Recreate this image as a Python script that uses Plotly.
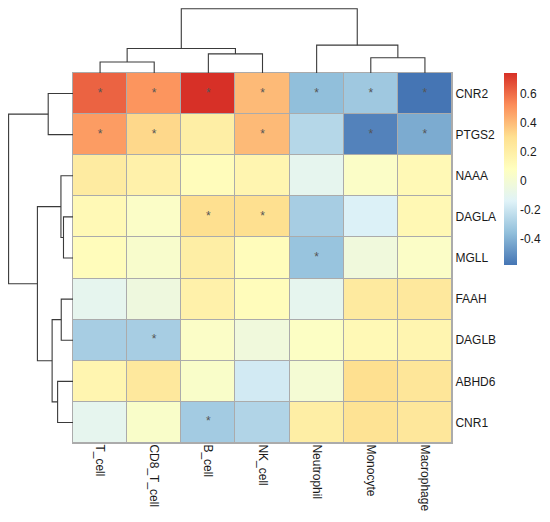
import plotly.graph_objects as go

# cell types (columns) and genes (rows), in the order drawn
cells = ["T_cell", "CD8_T_cell", "B_cell", "NK_cell", "Neutrophil", "Monocyte", "Macrophage"]
genes = ["CNR2", "PTGS2", "NAAA", "DAGLA", "MGLL", "FAAH", "DAGLB", "ABHD6", "CNR1"]

# correlation values, one row per gene
corr = [
    [0.62, 0.50, 0.74, 0.40, -0.36, -0.32, -0.58],
    [0.48, 0.32, 0.20, 0.40, -0.26, -0.54, -0.42],
    [0.22, 0.18, 0.10, 0.15, -0.10, 0.05, 0.12],
    [0.12, 0.05, 0.30, 0.30, -0.30, -0.15, 0.13],
    [0.10, 0.03, 0.20, 0.10, -0.34, -0.03, 0.05],
    [-0.10, -0.04, 0.18, 0.10, -0.10, 0.23, 0.24],
    [-0.30, -0.30, 0.05, -0.03, 0.06, 0.12, 0.15],
    [0.15, 0.24, 0.04, -0.18, 0.00, 0.30, 0.26],
    [-0.10, 0.04, -0.31, -0.27, 0.20, 0.28, 0.25],
]

# significance marks (1 = "*")
stars = [
    [1, 1, 1, 1, 1, 1, 1],
    [1, 1, 0, 1, 0, 1, 1],
    [0, 0, 0, 0, 0, 0, 0],
    [0, 0, 1, 1, 0, 0, 0],
    [0, 0, 0, 0, 1, 0, 0],
    [0, 0, 0, 0, 0, 0, 0],
    [0, 1, 0, 0, 0, 0, 0],
    [0, 0, 0, 0, 0, 0, 0],
    [0, 0, 1, 0, 0, 0, 0],
]

# hierarchical clustering merges: (child_a, child_b, height); leaves are 0..n-1
row_merges = [(0, 1, 25.3), (3, 4, 9.7), (2, 10, 12.3), (5, 6, 12.0),
              (7, 8, 15.7), (12, 13, 21.3), (11, 14, 36.3), (9, 15, 65.7)]
col_merges = [(0, 1, 11.3), (2, 3, 19.7), (7, 8, 25.3),
              (5, 6, 15.7), (4, 10, 28.7), (9, 11, 66.3)]

colors = ["#4575B4", "#91BFDB", "#E0F3F8", "#FFFFBF", "#FEE090", "#FC8D59", "#D73027"]
zmin, zmax = -0.58, 0.74


def dendro_lines(n, merges):
    pos = {i: float(i) for i in range(n)}
    hgt = {i: 0.0 for i in range(n)}
    p, h = [], []
    for k, (a, b, ht) in enumerate(merges):
        p += [pos[a], pos[a], pos[b], pos[b], None]
        h += [hgt[a], ht, ht, hgt[b], None]
        pos[n + k] = (pos[a] + pos[b]) / 2
        hgt[n + k] = ht
    return p, h


# the page body adds an 8px margin, so lay out on a slightly smaller canvas
OFF = 8
W, H = 550 - OFF, 522 - OFF
left, right, top, bottom = 73 - OFF, 452 - OFF, 73 - OFF, 443 - OFF
hm_x = [left / W, right / W]
hm_y = [1 - bottom / H, 1 - top / H]
border = "#ABABAB"

fig = go.Figure()

fig.add_trace(go.Heatmap(
    z=corr, x=list(range(len(cells))), y=list(range(len(genes))),
    zmin=zmin, zmax=zmax,
    colorscale=[[i / 6, c] for i, c in enumerate(colors)],
    xgap=1, ygap=1, hoverinfo="skip",
    colorbar=dict(x=(504 - OFF) / W, xanchor="left", xpad=0, y=hm_y[1], yanchor="top", ypad=0,
                  len=192 / H, lenmode="fraction", thickness=13, outlinewidth=0,
                  tickvals=[-0.4, -0.2, 0, 0.2, 0.4, 0.6],
                  ticktext=["-0.4", "-0.2", "0", "0.2", "0.4", "0.6"],
                  ticks="", tickfont=dict(size=12, color="#1a1a1a")),
))

sx, sy = [], []
for r in range(len(genes)):
    for c in range(len(cells)):
        if stars[r][c]:
            sx.append(c)
            sy.append(r)
fig.add_trace(go.Scatter(
    x=sx, y=sy, mode="text", text=["*"] * len(sx),
    textfont=dict(size=12, color="#555555"), textposition="middle center",
    hoverinfo="skip", showlegend=False,
))

# top (column) dendrogram
cp, ch = dendro_lines(len(cells), col_merges)
fig.add_trace(go.Scatter(x=cp, y=ch, mode="lines", xaxis="x2", yaxis="y2",
                         line=dict(color="#3a3a3a", width=1.1), hoverinfo="skip", showlegend=False))

# left (row) dendrogram
rp, rh = dendro_lines(len(genes), row_merges)
fig.add_trace(go.Scatter(x=rh, y=rp, mode="lines", xaxis="x3", yaxis="y3",
                         line=dict(color="#3a3a3a", width=1.1), hoverinfo="skip", showlegend=False))

# grey underlay showing through the cell gaps as borders
fig.add_shape(type="rect", xref="x", yref="y", x0=-0.5, x1=len(cells) - 0.5,
              y0=-0.5, y1=len(genes) - 0.5, fillcolor=border, line_width=0, layer="below")

fig.update_layout(
    width=W, height=H,
    margin=dict(l=0, r=0, t=0, b=0),
    paper_bgcolor="white", plot_bgcolor="white",
    font=dict(family="Liberation Sans, Arial", size=12, color="#1a1a1a"),
    showlegend=False,
    xaxis=dict(domain=hm_x, range=[-0.5, 6.5], tickvals=list(range(len(cells))), ticktext=cells,
               tickangle=90, ticks="", showgrid=False, zeroline=False, ticklabelstandoff=-2,
               showline=True, mirror=True, linecolor=border, linewidth=1),
    yaxis=dict(domain=hm_y, range=[8.5, -0.5], tickvals=list(range(len(genes))), ticktext=genes,
               side="right", ticks="", showgrid=False, zeroline=False,
               showline=True, mirror=True, linecolor=border, linewidth=1),
    xaxis2=dict(domain=hm_x, range=[-0.5, 6.5], anchor="y2", visible=False),
    yaxis2=dict(domain=[hm_y[1], 1], range=[0, 67.0], anchor="x2", visible=False),
    xaxis3=dict(domain=[0, hm_x[0]], range=[66.3, 0], anchor="y3", visible=False),
    yaxis3=dict(domain=hm_y, range=[8.5, -0.5], anchor="x3", visible=False),
)

fig.write_html("out.html")
